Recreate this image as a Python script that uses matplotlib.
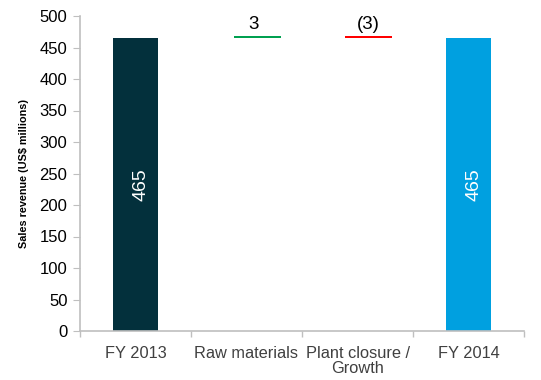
import numpy as np
import matplotlib.pyplot as plt
import matplotlib
matplotlib.rcParams['font.family'] = ['Liberation Sans', 'DejaVu Sans']

# Waterfall values (US$ millions)
categories = ['FY 2013', 'Raw materials', 'Plant closure /\nGrowth', 'FY 2014']
start_value = 465
changes = [3, -3]
end_value = 465
change_labels = ['3', '(3)']

dark = '#03303c'
light = '#00a0e0'
up_col = '#00a050'
down_col = '#ff0000'
grey = '#bfbfbf'

fig = plt.figure(figsize=(5.41, 3.8), dpi=100)
ax = fig.add_axes([80 / 541, 1 - 331 / 380, 444 / 541, 315 / 380])

# Totals
ax.bar(0, start_value, width=0.41, color=dark)
ax.bar(3, end_value, width=0.41, color=light)

# Intermediate steps, floating on the running total
running = start_value
for i, (chg, lab) in enumerate(zip(changes, change_labels)):
    x = i + 1 + 0.1
    bottom = running if chg >= 0 else running + chg
    ax.bar(x, abs(chg), bottom=bottom, width=0.42,
           color=up_col if chg >= 0 else down_col)
    ax.text(x - 0.04 if chg >= 0 else x, bottom + abs(chg) + 5, lab,
            ha='center', va='bottom', fontsize=13.5)
    running += chg

# Value labels inside total bars
for x, v in [(0, start_value), (3, end_value)]:
    ax.text(x + 0.05, v / 2, f'{v}', ha='center', va='center', rotation=90,
            color='white', fontsize=14)

ax.set_xlim(-0.5, 3.5)
ax.set_ylim(0, 500)
ax.set_yticks(np.arange(0, 501, 50))
ax.set_xticks(np.arange(4))
ax.set_xticklabels(categories, fontsize=11.8, color='#404040', linespacing=1.0)
ax.set_xticks(np.arange(-0.5, 3.6, 1), minor=True)
ax.tick_params(axis='x', which='major', length=0, pad=11)
ax.tick_params(axis='x', which='minor', length=4, color=grey, width=1)
ax.tick_params(axis='y', length=5, color=grey, labelsize=12, pad=4)

for s in ['top', 'right']:
    ax.spines[s].set_visible(False)
for s in ['left', 'bottom']:
    ax.spines[s].set_color(grey)
    ax.spines[s].set_linewidth(1.2)

ax.set_ylabel('Sales revenue (US$ millions)', fontsize=7.8, fontweight='bold',
              labelpad=8)

plt.savefig('out.png', dpi=100)
